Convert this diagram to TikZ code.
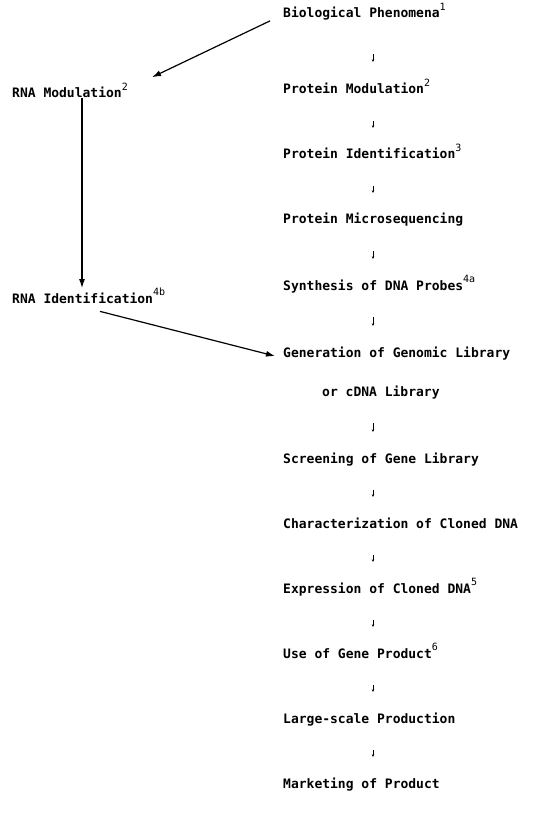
\documentclass[tikz,border=0pt]{standalone}
\usepackage{fontspec}
\setmonofont{DejaVu Sans Mono}
\usetikzlibrary{arrows.meta}
\newcommand{\refmark}[1]{\raisebox{0.55em}{\mdseries\fontsize{10}{10}\selectfont #1}}
\tikzset{
  stage/.style={anchor=base west, inner sep=0pt, font=\ttfamily\bfseries\fontsize{13}{15}\selectfont},
  flow/.style={-{Latex[length=9pt,width=6pt]}, line width=1.2pt},
  tick/.style={-{Stealth[length=2.5pt,width=2.5pt]}, line width=0.6pt, shorten <=#1, shorten >=#1},
  tick/.default=29pt
}
\begin{document}
\begin{tikzpicture}[x=1pt, y=-1pt]
  \useasboundingbox (0,0) rectangle (545,834);

  % Main column
  \node[stage] (bio) at (283,18) {Biological Phenomena\refmark{1}};
  \node[stage] (pmod) at (283,94) {Protein Modulation\refmark{2}};
  \node[stage] (pid) at (283,159) {Protein Identification\refmark{3}};
  \node[stage] (pseq) at (283,224) {Protein Microsequencing};
  \node[stage] (probe) at (283,290) {Synthesis of DNA Probes\refmark{4a}};
  \node[stage] (gen) at (283,357) {Generation of Genomic Library};
  \node[stage] (cdna) at (322,396) {or cDNA Library};
  \node[stage] (screen) at (283,463) {Screening of Gene Library};
  \node[stage] (clone) at (283,528) {Characterization of Cloned DNA};
  \node[stage] (expr) at (283,593) {Expression of Cloned DNA\refmark{5}};
  \node[stage] (use) at (283,658) {Use of Gene Product\refmark{6}};
  \node[stage] (scale) at (283,723) {Large-scale Production};
  \node[stage] (market) at (283,788) {Marketing of Product};

  % Side branch
  \node[stage] (rnamod) at (12,98) {RNA Modulation\refmark{2}};
  \node[stage] (rnaid) at (12,303) {RNA Identification\refmark{4b}};

  % Small arrows down the main column
  \coordinate (col) at (373,0);
  \draw[tick, shorten <=38pt, shorten >=30pt] (col |- bio.mid west) -- (col |- pmod.mid west);
  \foreach \a/\b in {pmod/pid, pid/pseq, pseq/probe, probe/gen,
                     cdna/screen, screen/clone, clone/expr, expr/use,
                     use/scale, scale/market}
    \draw[tick] (col |- \a.mid west) -- (col |- \b.mid west);

  % Connectors
  \draw[flow] ([xshift=-13pt]bio.south west) -- ([xshift=24pt,yshift=6pt]rnamod.north east);
  \draw[flow] ([xshift=70pt]rnamod.south west) -- ([xshift=70pt]rnaid.north west);
  \draw[flow] ([xshift=88pt,yshift=-8pt]rnaid.south west) -- ([xshift=-8pt,yshift=-3pt]gen.west);
\end{tikzpicture}
\end{document}
